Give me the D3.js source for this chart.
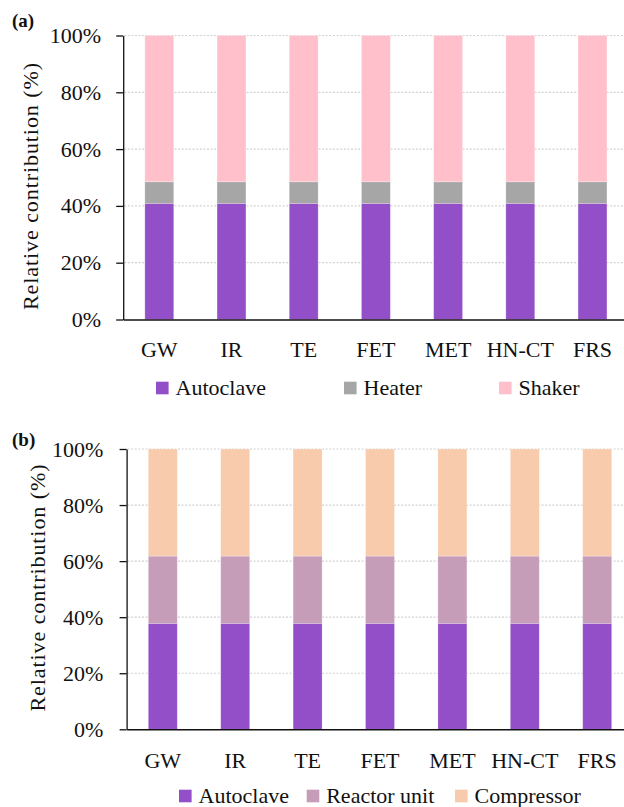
<!DOCTYPE html>
<html>
<head>
<meta charset="utf-8">
<script src="https://cdn.jsdelivr.net/npm/d3@7"></script>
<style>
  html, body { margin: 0; padding: 0; background: #fff; }
  svg { display: block; }
  text { font-family: "Liberation Serif", "Times New Roman", serif; fill: #111; }
</style>
</head>
<body>
<svg id="chart" width="624" height="807"></svg>
<script>
// Sampling methods shared by both panels
const categories = ["GW", "IR", "TE", "FET", "MET", "HN-CT", "FRS"];
const yTicks = [0, 20, 40, 60, 80, 100];

// Panel (a): equipment shares (%)
const seriesA = ["Autoclave", "Heater", "Shaker"];
const autoclaveA = [40.9, 40.9, 40.9, 40.9, 40.9, 40.9, 40.9];
const heaterA = [7.6, 7.6, 7.6, 7.6, 7.6, 7.6, 7.6];
const shakerA = [51.5, 51.5, 51.5, 51.5, 51.5, 51.5, 51.5];
const colorsA = ["#934fc7", "#a6a6a6", "#ffc0cb"];

// Panel (b): equipment shares (%)
const seriesB = ["Autoclave", "Reactor unit", "Compressor"];
const autoclaveB = [37.8, 37.8, 37.8, 37.8, 37.8, 37.8, 37.8];
const reactorB = [24.0, 24.0, 24.0, 24.0, 24.0, 24.0, 24.0];
const compressorB = [38.2, 38.2, 38.2, 38.2, 38.2, 38.2, 38.2];
const colorsB = ["#934fc7", "#c69db9", "#f7cbac"];

const svg = d3.select("#chart");
const FONT = 22;

function drawPanel(cfg) {
  const rows = categories.map((c, i) => {
    const r = { cat: c };
    cfg.series.forEach((s, k) => { r[s] = cfg.values[k][i]; });
    return r;
  });
  const stacked = d3.stack().keys(cfg.series)(rows);

  const x = d3.scaleBand().domain(categories).range(cfg.xRange).paddingInner(0.6).paddingOuter(0.3);
  const y = d3.scaleLinear().domain([0, 100]).range(cfg.yRange);
  const color = d3.scaleOrdinal().domain(cfg.series).range(cfg.colors);

  const g = svg.append("g");

  // dotted gridlines
  g.append("g").selectAll("line").data(yTicks.filter(d => d > 0)).join("line")
    .attr("x1", cfg.xRange[0] + 1).attr("x2", 624)
    .attr("y1", d => y(d)).attr("y2", d => y(d))
    .attr("stroke", "#d2d2d2").attr("stroke-width", 1.2)
    .attr("stroke-dasharray", "2,1.6");

  // stacked bars
  g.append("g").selectAll("g").data(stacked).join("g")
    .attr("fill", d => color(d.key))
    .selectAll("rect").data(d => d).join("rect")
    .attr("x", d => x(d.data.cat))
    .attr("width", x.bandwidth())
    .attr("y", d => y(d[1]))
    .attr("height", d => y(d[0]) - y(d[1]))
    .attr("stroke", "#ffffff").attr("stroke-opacity", 0.3).attr("stroke-width", 0.8);

  // y axis
  const yAxis = g.append("g")
    .attr("transform", `translate(${cfg.xRange[0]},0)`)
    .call(d3.axisLeft(y).tickValues(yTicks).tickFormat(d => d + "%")
      .tickSize(7).tickSizeOuter(0).tickPadding(cfg.yPad));
  yAxis.select(".domain").attr("stroke", "#111").attr("stroke-width", 1.3);
  yAxis.selectAll(".tick line").attr("stroke", "#111").attr("stroke-width", 1.3);
  yAxis.selectAll(".tick text").attr("font-size", FONT).attr("font-family", "Liberation Serif").attr("fill", "#111");

  // x axis
  const xAxis = g.append("g")
    .attr("transform", `translate(0,${cfg.yRange[0]})`)
    .call(d3.axisBottom(x).tickSize(0).tickSizeOuter(0).tickPadding(cfg.xPad));
  xAxis.select(".domain").attr("stroke", "#111").attr("stroke-width", 1.6);
  xAxis.selectAll(".tick text").attr("font-size", FONT).attr("font-family", "Liberation Serif").attr("fill", "#111");

  // y title
  g.append("text")
    .attr("transform", `translate(${cfg.titleX},${cfg.titleY}) rotate(-90)`)
    .attr("text-anchor", "middle")
    .attr("font-size", FONT)
    .attr("textLength", 247).attr("lengthAdjust", "spacing")
    .text("Relative contribution (%)");

  // panel tag
  g.append("text")
    .attr("x", 12).attr("y", cfg.tagY)
    .attr("font-size", 19).attr("font-weight", "bold")
    .text(cfg.tag);

  // legend
  const leg = g.append("g").selectAll("g").data(cfg.series).join("g")
    .attr("transform", (d, i) => `translate(${cfg.legendX[i]},${cfg.legendY})`);
  leg.append("rect").attr("x", 0).attr("y", -12.8).attr("width", 12.6).attr("height", 12.6)
    .attr("fill", d => color(d));
  leg.append("text").attr("x", 19.5).attr("y", 0).attr("font-size", FONT).text(d => d);
}

drawPanel({
  tag: "(a)", tagY: 27,
  series: seriesA, values: [autoclaveA, heaterA, shakerA], colors: colorsA,
  xRange: [123.2, 628.6], yRange: [319.5, 35.5],
  yPad: 15, xPad: 21.8,
  titleX: 38, titleY: 186.5,
  legendX: [156, 344, 499], legendY: 394.5
});

drawPanel({
  tag: "(b)", tagY: 446,
  series: seriesB, values: [autoclaveB, reactorB, compressorB], colors: colorsB,
  xRange: [126.6, 633.4], yRange: [729.3, 449],
  yPad: 16.4, xPad: 23.3,
  titleX: 45, titleY: 588,
  legendX: [179, 306.7, 455], legendY: 802.5
});
</script>
</body>
</html>
